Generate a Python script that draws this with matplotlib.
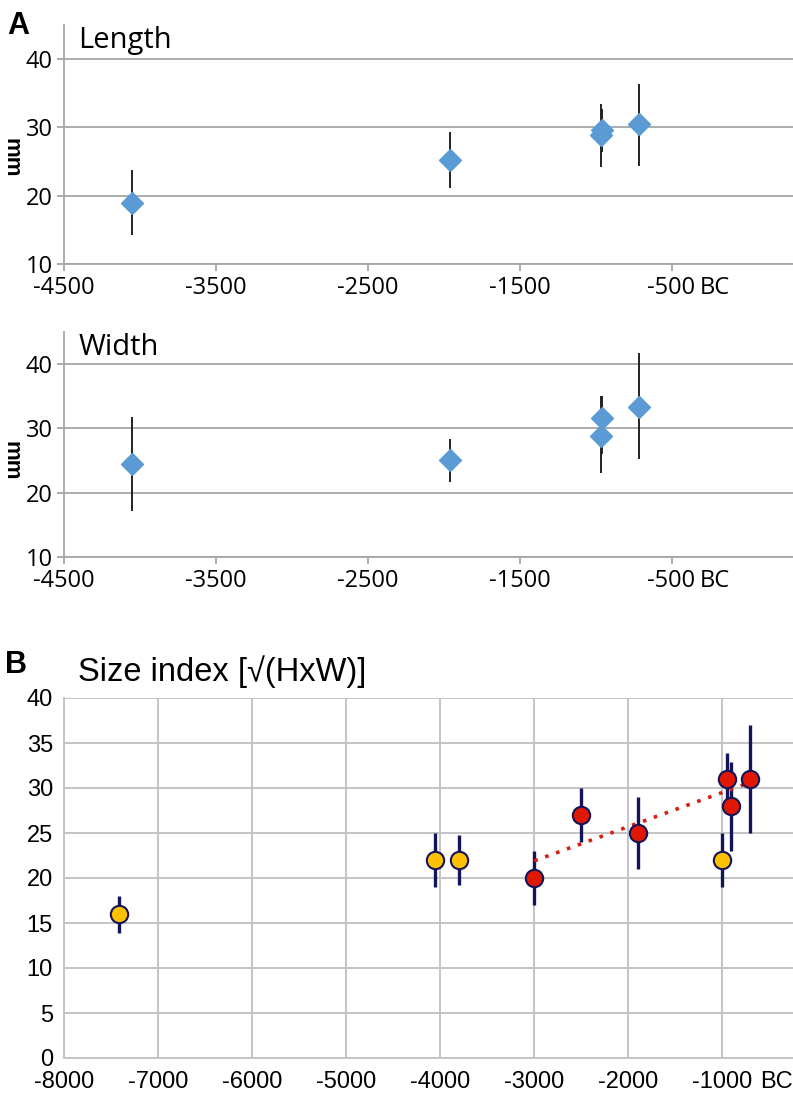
import numpy as np
import matplotlib
matplotlib.use("Agg")
import matplotlib.pyplot as plt

plt.rcParams['axes.unicode_minus'] = False

# ---- Data ----
len_x = [-4050, -1960, -967, -960, -711]
len_y = [19.0, 25.3, 28.9, 29.6, 30.5]
len_lo = [14.2, 21.2, 24.2, 26.4, 24.3]
len_hi = [23.8, 29.4, 33.5, 32.7, 36.4]

wid_x = [-4050, -1960, -967, -960, -711]
wid_y = [24.4, 25.05, 28.9, 31.7, 33.4]
wid_lo = [17.1, 21.7, 23.1, 26.0, 25.2]
wid_hi = [31.8, 28.4, 35.1, 35.0, 41.7]

yel_x = [-7420, -4052, -3800, -1004]
yel_y = [16.0, 22.0, 22.0, 22.0]
yel_lo = [13.9, 19.0, 19.2, 19.0]
yel_hi = [18.0, 25.0, 24.8, 25.0]

red_x = [-3000, -2500, -1903, -948, -905, -704]
red_y = [20.0, 27.0, 25.0, 31.0, 28.0, 31.0]
red_lo = [17.0, 24.0, 21.0, 28.0, 23.0, 25.0]
red_hi = [23.0, 30.0, 29.0, 33.9, 32.9, 37.0]

a_xticks = [-4500, -3500, -2500, -1500, -500]
a_yticks = [10, 20, 30, 40]
b_xticks = [-8000, -7000, -6000, -5000, -4000, -3000, -2000, -1000]
b_yticks = [0, 5, 10, 15, 20, 25, 30, 35, 40]

W, H = 793, 1094
fig = plt.figure(figsize=(W / 100, H / 100), dpi=100)

def rect(l, t, r, b):
    return [l / W, 1 - b / H, (r - l) / W, (b - t) / H]

fa = ['Open Sans', 'DejaVu Sans']
fb = ['Liberation Sans', 'DejaVu Sans']
blue = '#5B9BD5'
grey = '#A6A6A6'

def panel_a(ax, x, y, lo, hi, title):
    ax.set_xlim(-4500, 300)
    ax.set_ylim(10, 45)
    ax.set_xticks(a_xticks)
    ax.set_yticks(a_yticks)
    ax.set_xticklabels([str(v) for v in a_xticks], fontfamily=fa, fontsize=17)
    ax.set_yticklabels([str(v) for v in a_yticks], fontfamily=fa, fontsize=17)
    ax.yaxis.grid(True, color=grey, linewidth=1.3)
    ax.set_axisbelow(True)
    for s in ['top', 'right']:
        ax.spines[s].set_visible(False)
    for s in ['left', 'bottom']:
        ax.spines[s].set_color(grey)
        ax.spines[s].set_linewidth(1.3)
    ax.tick_params(axis='both', colors=grey, length=5, width=1.3, labelcolor='black')
    ax.tick_params(axis='x', pad=3.5)
    ax.tick_params(axis='y', pad=3)
    y = np.array(y)
    ax.vlines(x, lo, hi, color='#222222', linewidth=1.4, zorder=3)
    ax.plot(x, y, linestyle='none', marker='D', markersize=11, color=blue, zorder=4)
    ax.text(0.02, 0.995, title, transform=ax.transAxes, ha='left', va='top',
            fontfamily=fa, fontsize=21)
    ax.annotate('BC', xy=(-500, 0), xycoords=('data', 'axes fraction'),
                xytext=(28, -11.8), textcoords='offset pixels', ha='left', va='top',
                fontfamily=fa, fontsize=17)

ax1 = fig.add_axes(rect(64, 25, 793, 264))
panel_a(ax1, len_x, len_y, len_lo, len_hi, 'Length')
ax2 = fig.add_axes(rect(64, 332, 793, 557))
panel_a(ax2, wid_x, wid_y, wid_lo, wid_hi, 'Width')

fig.text(11 / W, 1 - 158 / H, 'mm', rotation=270, ha='center', va='center',
         fontfamily=fb, fontsize=16, fontweight='bold')
fig.text(11 / W, 1 - 461 / H, 'mm', rotation=270, ha='center', va='center',
         fontfamily=fb, fontsize=16, fontweight='bold')
fig.text(7 / W, 1 - 34 / H, 'A', ha='left', va='baseline', fontfamily=fb,
         fontsize=22, fontweight='bold')

# ---- Panel B ----
ax3 = fig.add_axes(rect(64, 698, 793, 1058))
ax3.set_xlim(-8000, -250)
ax3.set_ylim(0, 40)
ax3.set_xticks(b_xticks)
ax3.set_yticks(b_yticks)
ax3.set_xticklabels([str(v) for v in b_xticks], fontfamily=fb, fontsize=17)
ax3.set_yticklabels([str(v) for v in b_yticks], fontfamily=fb, fontsize=17)
ax3.grid(True, color='#C4C4C4', linewidth=1.4)
ax3.set_axisbelow(True)
for s in ['top', 'right']:
    ax3.spines[s].set_visible(False)
for s in ['left', 'bottom']:
    ax3.spines[s].set_color('#C4C4C4')
    ax3.spines[s].set_linewidth(1.4)
ax3.tick_params(axis='x', length=0, pad=9)
ax3.tick_params(axis='y', length=0, pad=8)

navy = '#14145A'
ax3.vlines(yel_x, yel_lo, yel_hi, color=navy, linewidth=2.4, zorder=3)
ax3.vlines(red_x, red_lo, red_hi, color=navy, linewidth=2.4, zorder=3)

coef = np.polyfit(red_x, red_y, 1)
tx = np.array([min(red_x), max(red_x)])
ax3.plot(tx, np.polyval(coef, tx), linestyle=(0, (1, 2.2)), color='#D42010',
         linewidth=2.6, zorder=3.5)

ax3.plot(yel_x, yel_y, linestyle='none', marker='o', markersize=12.5,
         markerfacecolor='#FFC000', markeredgecolor=navy, markeredgewidth=1.5, zorder=4)
ax3.plot(red_x, red_y, linestyle='none', marker='o', markersize=12.5,
         markerfacecolor='#E01800', markeredgecolor=navy, markeredgewidth=1.5, zorder=4)

ax3.annotate('BC', xy=(-1000, 0), xycoords=('data', 'axes fraction'),
             xytext=(38, -12.5), textcoords='offset pixels', ha='left', va='top',
             fontfamily=fb, fontsize=17)
ax3.text(78 / W, 1 - 681 / H, 'Size index [\u221a(HxW)]', transform=fig.transFigure,
         ha='left', va='baseline', fontfamily=fb, fontsize=23.5)
fig.text(5 / W, 1 - 673 / H, 'B', ha='left', va='baseline', fontfamily=fb,
         fontsize=22, fontweight='bold')

fig.savefig('out.png', dpi=100, facecolor='white')
